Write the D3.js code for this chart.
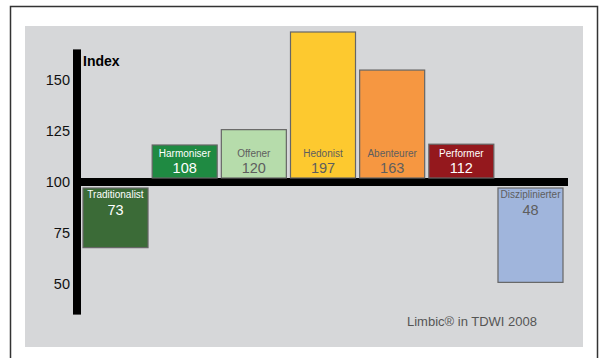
<!DOCTYPE html>
<html>
<head>
<meta charset="utf-8">
<script src="https://cdn.jsdelivr.net/npm/d3@7"></script>
<style>
  body { margin: 0; background: #fff; }
  svg { font-family: "Liberation Sans", Arial, sans-serif; display: block; }
</style>
</head>
<body>
<div id="chart"></div>
<script>
// données
var types = ["Traditionalist", "Harmoniser", "Offener", "Hedonist", "Abenteurer", "Performer", "Disziplinierter"];
var indexValues = [73, 108, 120, 197, 163, 112, 48];
var tickValues = [50, 75, 100, 125, 150];
var colors = ["#3b6b37", "#1f8a42", "#b6dcab", "#fdc92f", "#f69741", "#94181d", "#a0b5dc"];
var darkText = [false, false, true, true, true, false, true];

var width = 603, height = 358;

var svg = d3.select("#chart")
  .append("svg")
  .attr("width", width)
  .attr("height", height);

// cadre + fond gris
svg.append("rect")
  .attr("x", 10.5).attr("y", 6.5)
  .attr("width", 587).attr("height", 370)
  .attr("fill", "#fff")
  .attr("stroke", "#333")
  .attr("stroke-width", 1.5);

svg.append("rect")
  .attr("x", 25).attr("y", 26)
  .attr("width", 558).attr("height", 321)
  .attr("fill", "#d6d7d9");

// échelles
var yScale = d3.scaleLinear()
  .domain([50, 150])
  .range([284, 80]);

var xScale = d3.scaleBand()
  .domain(types)
  .range([83, 563])
  .paddingInner(0.06);

// hauteur des barres (le graphique d'origine n'est pas linéaire)
var hScale = d3.scalePow()
  .exponent(0.7)
  .domain([0, 97])
  .range([0, 146]);
var minBar = 33; // place pour les étiquettes

function barH(d) {
  return Math.max(minBar, hScale(Math.abs(d.value - 100)));
}

var data = types.map(function(t, i) {
  return { type: t, value: indexValues[i], color: colors[i], dark: darkText[i] };
});

var zeroTop = yScale(100) - 4,
    zeroBottom = yScale(100) + 4;

// axe vertical épais
svg.append("rect")
  .attr("x", 73)
  .attr("y", yScale(165))
  .attr("width", 8)
  .attr("height", yScale(35) - yScale(165))
  .attr("fill", "#000");

// ligne de base 100
svg.append("rect")
  .attr("x", 81)
  .attr("y", zeroTop)
  .attr("width", xScale.range()[1] + 5 - 81)
  .attr("height", zeroBottom - zeroTop)
  .attr("fill", "#000");

// graduations
var yAxis = svg.append("g")
  .attr("class", "axis")
  .attr("transform", "translate(71,0)")
  .call(d3.axisLeft(yScale).tickValues(tickValues).tickSize(0).tickPadding(1));
yAxis.select(".domain").remove();
yAxis.selectAll("text")
  .style("font-size", "14.5px")
  .style("font-family", "Liberation Sans, Arial, sans-serif")
  .attr("fill", "#111");

svg.append("text")
  .attr("x", 83)
  .attr("y", 65.5)
  .style("font-size", "14px")
  .style("font-weight", "bold")
  .attr("fill", "#000")
  .text("Index");

// barres
var bars = svg.selectAll(".bar")
  .data(data)
  .enter().append("g")
  .attr("class", "bar");

bars.append("rect")
  .attr("x", function(d) { return xScale(d.type); })
  .attr("width", xScale.bandwidth())
  .attr("y", function(d) {
    return d.value >= 100 ? zeroTop - barH(d) : zeroBottom + 2;
  })
  .attr("height", barH)
  .attr("fill", function(d) { return d.color; })
  .attr("stroke", "#666")
  .attr("stroke-width", 1.2);

bars.append("text")
  .attr("x", function(d) { return xScale(d.type) + xScale.bandwidth() / 2; })
  .attr("y", function(d) { return d.value >= 100 ? zeroTop - 21 : zeroBottom + 11.5; })
  .attr("text-anchor", "middle")
  .style("font-size", "10px")
  .attr("fill", function(d) { return d.dark ? "#5e5e5e" : "#fff"; })
  .text(function(d) { return d.type; });

bars.append("text")
  .attr("x", function(d) { return xScale(d.type) + xScale.bandwidth() / 2; })
  .attr("y", function(d) { return d.value >= 100 ? zeroTop - 5.5 : zeroBottom + 29; })
  .attr("text-anchor", "middle")
  .style("font-size", "14.5px")
  .attr("fill", function(d) { return d.dark ? "#5e5e5e" : "#fff"; })
  .text(function(d) { return d.value; });

// source
svg.append("text")
  .attr("x", 537)
  .attr("y", 325.5)
  .attr("text-anchor", "end")
  .style("font-size", "13px")
  .attr("fill", "#555")
  .text("Limbic\u00ae in TDWI 2008");
</script>
</body>
</html>
